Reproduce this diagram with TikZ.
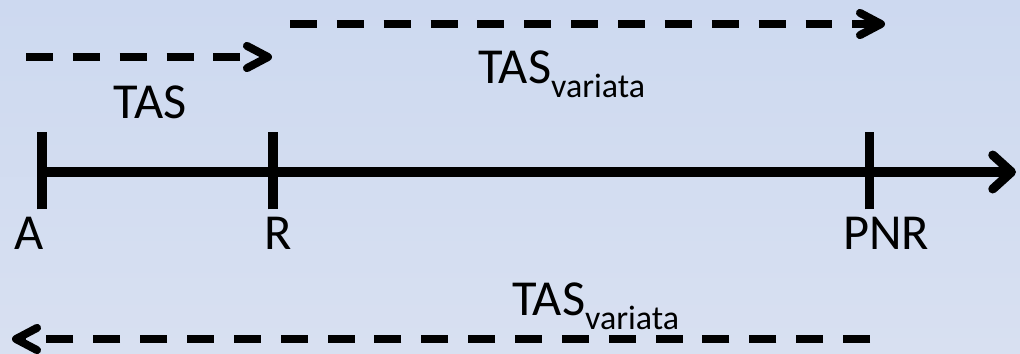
\documentclass[tikz,border=0pt]{standalone}
\usepackage{fontspec}
\setmainfont{Carlito}
\usetikzlibrary{arrows.meta}

\newcommand{\subvar}[1]{\raisebox{-12pt}{\fontsize{29pt}{30pt}\selectfont #1}}

\begin{document}
\begin{tikzpicture}[x=0.03cm, y=-0.03cm, font=\fontsize{43pt}{50pt}\selectfont]

% Styles
        \tikzstyle{axis}=[line width=7.7pt, -{Straight Barb[length=16pt, width=29pt, line cap=round, line join=round]}]
        \tikzstyle{tickmark}=[line width=7.7pt]
        \tikzstyle{dasharrow}=[line width=6.8pt, dash pattern=on 23pt off 17pt, -{Straight Barb[length=18pt, width=19pt, line cap=round, line join=round]}]
        \tikzstyle{lbl}=[inner sep=0pt, anchor=base]

% Background
        \useasboundingbox (0,0) rectangle (1020,353);
        \shade[top color={rgb,255:red,205;green,217;blue,240}, bottom color={rgb,255:red,216;green,224;blue,241}] (0,0) rectangle (1020,353);

% Points on the line
        \coordinate (a) at (42,172);
        \coordinate (r) at (273,172);
        \coordinate (pnr) at (869,172);
        \coordinate (end) at (1016,172);

% Dashed arrow ends
        \coordinate (tasstart) at (26,57);
        \coordinate (tasend) at (272,57);
        \coordinate (varstart) at (290,24);
        \coordinate (varend) at (885,24);
        \coordinate (backstart) at (870,339);
        \coordinate (backend) at (12,339);

% Labels
        \node[lbl] (alabel) at (29,249) {A};
        \node[lbl] (rlabel) at (278,249) {R};
        \node[lbl] (pnrlabel) at (886,249) {PNR};
        \node[lbl] (tas) at (150,118) {TAS};
        \node[lbl, anchor=base west] (tasvar) at (478,83) {TAS\subvar{variata}};
        \node[lbl, anchor=base west] (tasvarback) at (512,315) {TAS\subvar{variata}};

% Line and ticks
        \draw[axis] (a) -- (end);
        \draw[tickmark] ([yshift=-32]a) -- ([yshift=34]a);
        \draw[tickmark] ([yshift=-32]r) -- ([yshift=34]r);
        \draw[tickmark] ([yshift=-32]pnr) -- ([yshift=34]pnr);

% Dashed arrows
        \draw[dasharrow] (tasstart) -- (tasend);
        \draw[dasharrow] (varstart) -- (varend);
        \draw[dasharrow] (backstart) -- (backend);

    \end{tikzpicture}
\end{document}
